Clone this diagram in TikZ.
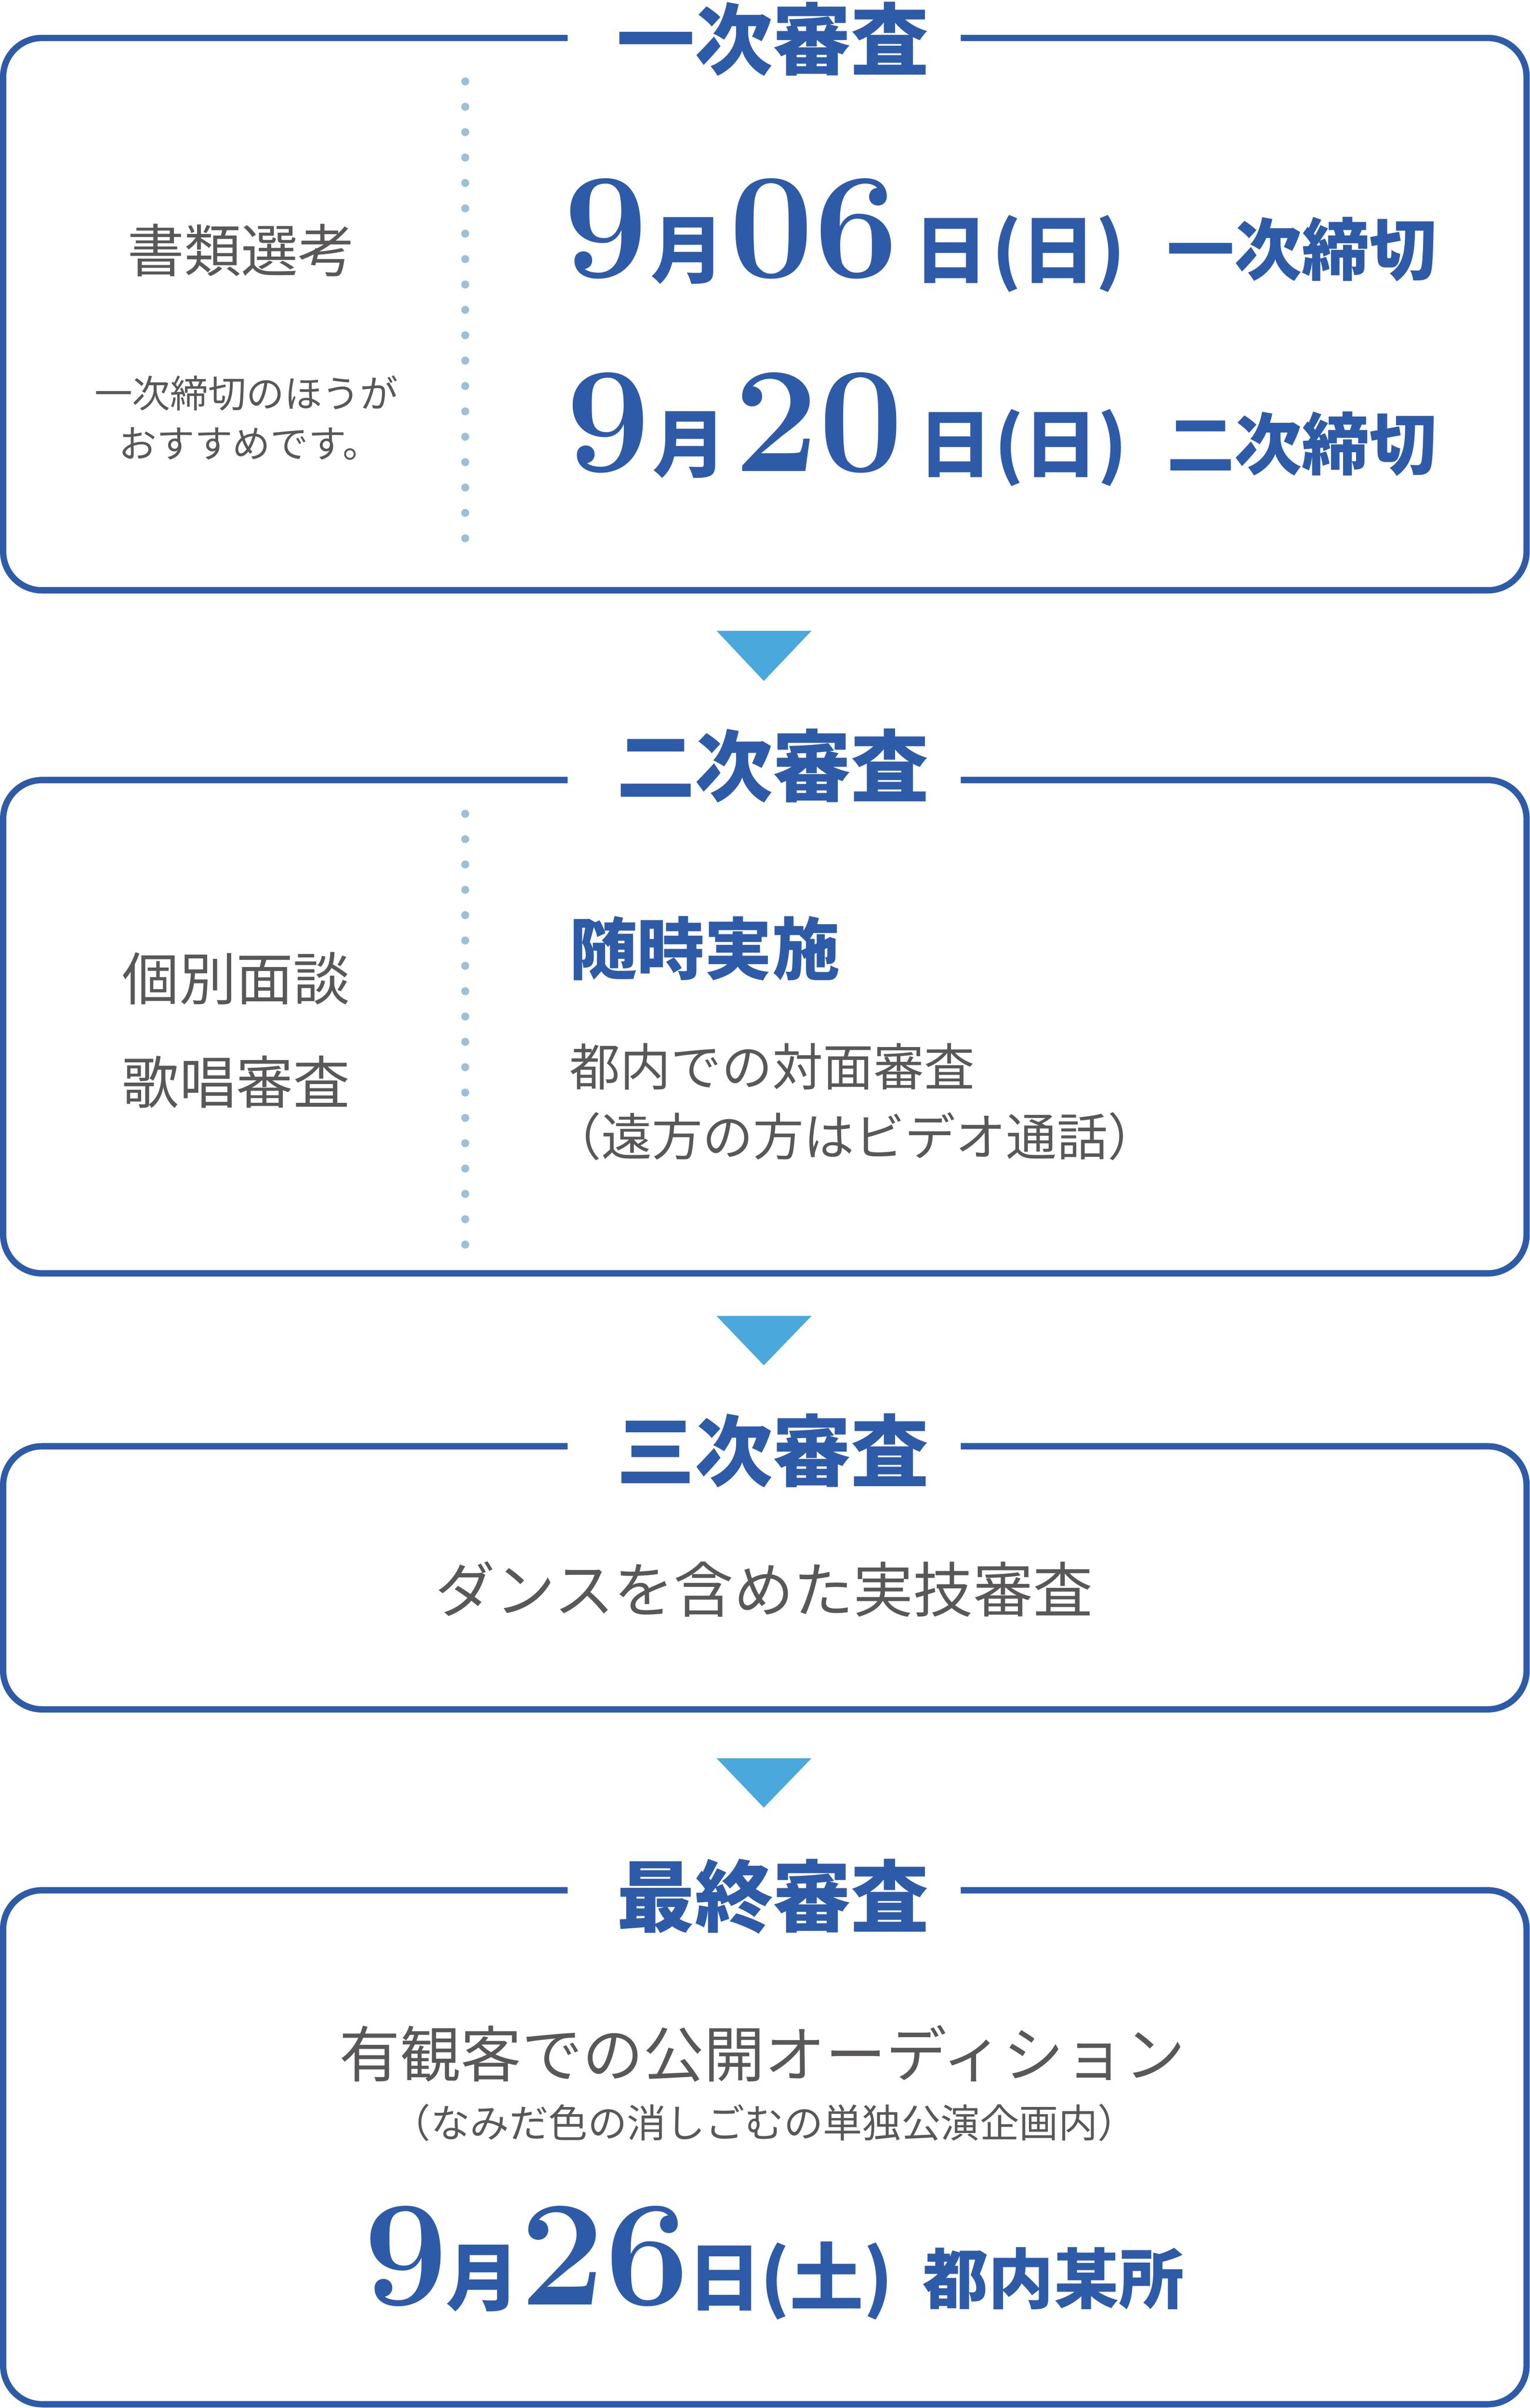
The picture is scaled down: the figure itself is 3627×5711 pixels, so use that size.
\documentclass[tikz,border=0pt]{standalone}
\usepackage{fontspec}
\newfontfamily\jp{Noto Sans CJK JP}
\definecolor{mainblue}{HTML}{2E5BA8}
\definecolor{tricol}{HTML}{4AA8DC}
\definecolor{txtgray}{HTML}{595757}
\definecolor{dotcol}{HTML}{9DC0D8}
\begin{document}
\begin{tikzpicture}[x=0.2pt,y=-0.2pt,
  frame/.style={draw=mainblue, line width=3pt, rounded corners=18.4pt},
  ttl/.style={text=mainblue, inner sep=0, font={\jp\bfseries\fontsize{37}{40}\selectfont}},
  graytxt/.style={text=txtgray, inner sep=0, font={\jp\fontsize{27}{30}\selectfont}},
  smallgray/.style={text=txtgray, inner sep=0, font={\jp\fontsize{18}{20}\selectfont}},
  midgray/.style={text=txtgray, inner sep=0, font={\jp\fontsize{24}{26}\selectfont}},
  bigdigit/.style={text=mainblue, inner sep=0, anchor=base, font={\rmfamily\bfseries\fontsize{71.4}{72}\selectfont}},
  datejp/.style={text=mainblue, inner sep=0, anchor=base, font={\jp\bfseries\fontsize{35}{36}\selectfont}},
  labjp/.style={text=mainblue, inner sep=0, anchor=base, font={\jp\bfseries\fontsize{32}{34}\selectfont}},
  tri/.style={fill=tricol},
  dot/.style={fill=dotcol}]
\useasboundingbox (0,0) rectangle (3627,5711);

% ---------- Box 1 ----------
\draw[frame] (1346,90) -- (7.5,90) -- (7.5,1400) -- (3619.5,1400) -- (3619.5,90) -- (2278,90);
\node[ttl] (t1) at (1833,93) {一次審査};
\foreach \i in {0,...,18} \fill[dot] (1103,193+\i*60.2) circle[radius=1.9pt];
\node[graytxt] (b1l) at (572,594) {書類選考};
\node[smallgray] (b1n1) at (584,932) {一次締切のほうが};
\node[smallgray] (b1n2) at (592,1052) {おすすめです。};

\node[bigdigit] (d1m) at (1436,657) {9};
\node[datejp] (d1mk) at (1630,657) {月};
\node[bigdigit] (d1d) at (1930,657) {06};
\node[datejp] (d1dk) at (2255,657) {日};
\node[datejp] (d1w) at (2510,657) {(日)};
\node[labjp] (d1l) at (3087,652) {一次締切};

\node[bigdigit] (d2m) at (1442,1118) {9};
\node[datejp] (d2mk) at (1635,1118) {月};
\node[bigdigit] (d2d) at (1941,1118) {20};
\node[datejp] (d2dk) at (2265,1118) {日};
\node[datejp] (d2w) at (2515,1118) {(日)};
\node[labjp] (d2l) at (3087,1113) {二次締切};

\fill[tri] (1699,1496) -- (1924,1496) -- (1811,1615) -- cycle;

% ---------- Box 2 ----------
\draw[frame] (1346,1850) -- (7.5,1850) -- (7.5,3020) -- (3619.5,3020) -- (3619.5,1850) -- (2278,1850);
\node[ttl] (t2) at (1833,1816) {二次審査};
\foreach \i in {0,...,17} \fill[dot] (1103,1930+\i*60.1) circle[radius=1.9pt];
\node[graytxt] (b2l1) at (560,2321) {個別面談};
\node[graytxt] (b2l2) at (560,2566) {歌唱審査};
\node[labjp, anchor=west] (b2h) at (1350,2249) {随時実施};
\node[midgray, anchor=west] (b2r1) at (1350,2530) {都内での対面審査};
\node[midgray, anchor=west] (b2r2) at (1305,2695) {（遠方の方はビデオ通話）};

\fill[tri] (1699,3121) -- (1924,3121) -- (1811,3238) -- cycle;

% ---------- Box 3 ----------
\draw[frame] (1346,3430) -- (7.5,3430) -- (7.5,4054) -- (3619.5,4054) -- (3619.5,3430) -- (2278,3430);
\node[ttl] (t3) at (1833,3440) {三次審査};
\node[graytxt, font={\jp\fontsize{28.4}{30}\selectfont}] (b3t) at (1812,3769) {ダンスを含めた実技審査};

\fill[tri] (1699,4170) -- (1924,4170) -- (1811,4287) -- cycle;

% ---------- Box 4 ----------
\draw[frame] (1346,4483) -- (7.5,4483) -- (7.5,5702) -- (3619.5,5702) -- (3619.5,4483) -- (2278,4483);
\node[ttl] (t4) at (1833,4498) {最終審査};
\node[graytxt, font={\jp\fontsize{28.8}{30}\selectfont}] (b4t) at (1808,4871) {有観客での公開オーディション};
\node[smallgray, font={\jp\fontsize{18.6}{20}\selectfont}] (b4s) at (1812,5034) {（なみだ色の消しごむの単独公演企画内）};

\node[bigdigit] (d3m) at (962,5466) {9};
\node[datejp] (d3mk) at (1145,5466) {月};
\node[bigdigit] (d3d) at (1434,5466) {26};
\node[datejp] (d3dk) at (1718,5466) {日};
\node[datejp] (d3w) at (1960,5466) {(土)};
\node[labjp, font={\jp\bfseries\fontsize{31}{33}\selectfont}] (d3l) at (2498,5463) {都内某所};
\end{tikzpicture}
\end{document}
